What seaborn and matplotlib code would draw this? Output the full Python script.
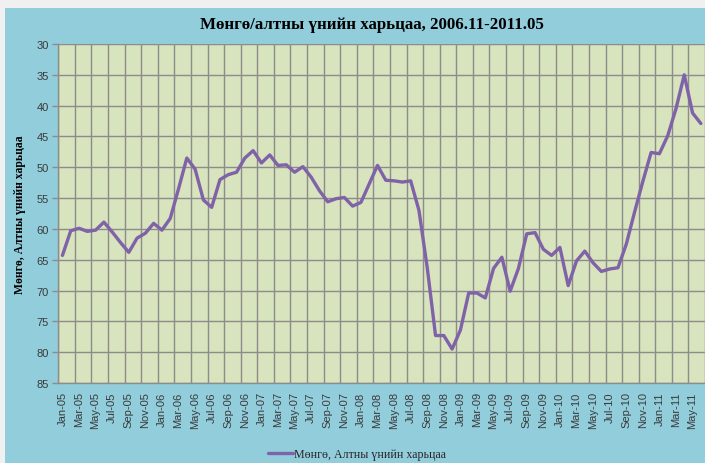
import matplotlib
matplotlib.use('Agg')
import matplotlib.pyplot as plt
import numpy as np
import pandas as pd
import seaborn as sns
from matplotlib.patches import Rectangle

TITLE = 'Мөнгө/алтны үнийн харьцаа, 2006.11-2011.05'
SERIES_NAME = 'Мөнгө, Алтны үнийн харьцаа'

MONTHS = pd.date_range('2005-01-01', '2011-06-01', freq='MS').strftime('%b-%y').tolist()

RATIO = [
    64.3, 60.3, 59.9, 60.4, 60.2, 58.9, 60.5, 62.2, 63.8, 61.5, 60.7, 59.1,   # 2005
    60.2, 58.3, 53.5, 48.5, 50.3, 55.3, 56.5, 52.0, 51.2, 50.8, 48.5, 47.3,   # 2006
    49.3, 48.0, 49.7, 49.6, 50.8, 49.9, 51.6, 53.8, 55.6, 55.1, 54.9, 56.3,   # 2007
    55.7, 52.7, 49.7, 52.1, 52.2, 52.4, 52.2, 57.0, 66.3, 77.3, 77.3, 79.5,   # 2008
    76.4, 70.4, 70.4, 71.2, 66.4, 64.6, 70.1, 66.4, 60.8, 60.6, 63.3, 64.3,   # 2009
    63.0, 69.2, 65.2, 63.6, 65.5, 66.9, 66.5, 66.3, 62.5, 57.3, 52.3, 47.6,   # 2010
    47.8, 44.9, 40.5, 35.0, 41.2, 42.9,                                       # 2011
]

Y_TICKS = list(range(30, 90, 5))

OUTER_BG = '#92cddc'
PLOT_BG = '#d7e4bd'
GRID = '#8c8c8c'
LINE = '#7f62a8'
TEXT = '#3a3a3a'

sns.set_style('white')
plt.rcParams['font.family'] = ['Liberation Sans', 'DejaVu Sans']

df = pd.DataFrame({'pos': np.arange(len(RATIO)) + 0.5, 'ratio': RATIO})

fig = plt.figure(figsize=(7.05, 4.64), dpi=100, facecolor='#f0f0f0')
fig.patches.append(Rectangle((5 / 705, 0), 1, 1 - 9 / 464, transform=fig.transFigure,
                             facecolor=OUTER_BG, edgecolor='none', zorder=-10))

ax = fig.add_axes([58.3 / 705, 1 - 384 / 464, (705 - 58.3) / 705, (384 - 45) / 464])
ax.set_facecolor(PLOT_BG)

sns.lineplot(data=df, x='pos', y='ratio', color=LINE, linewidth=2.4, ax=ax,
             label=SERIES_NAME, zorder=5)

n = len(MONTHS)
ax.set_xlim(0, n)
ax.set_ylim(85, 30)

ax.set_xticks(np.arange(0, n, 2) + 0.5)
ax.set_xticklabels(MONTHS[::2], rotation=90, fontsize=8, color=TEXT)
ax.set_xticks(np.arange(0, n + 1, 2), minor=True)
ax.tick_params(axis='x', which='major', length=0, pad=6)
ax.tick_params(axis='x', which='minor', length=0)

ax.set_yticks(Y_TICKS)
ax.set_yticklabels([str(v) for v in Y_TICKS], fontsize=8, color=TEXT)
ax.tick_params(axis='y', length=4, color=GRID, width=1, pad=3, left=True)

ax.grid(True, axis='x', which='minor', color=GRID, linewidth=1)
ax.grid(True, axis='y', which='major', color=GRID, linewidth=1)
ax.set_axisbelow(True)

for side in ['top', 'right']:
    ax.spines[side].set_visible(False)
for side in ['left', 'bottom']:
    ax.spines[side].set_color(GRID)
    ax.spines[side].set_linewidth(1)

ax.set_xlabel('')
ax.set_ylabel('')
fig.text(20 / 705, 1 - 215 / 464, SERIES_NAME, rotation=90, ha='center', va='center',
         fontsize=8.4, fontweight='bold', family='Liberation Serif', color='black')

fig.text(372 / 705, 1 - 25 / 464, TITLE, ha='center', va='center', fontsize=12.2,
         fontweight='bold', family='Liberation Serif', color='black')

leg = ax.legend(loc='center', bbox_to_anchor=(357 / 705, 1 - 455 / 464),
                bbox_transform=fig.transFigure, frameon=False, fontsize=8.6,
                handlelength=2.1, handletextpad=0.05, borderpad=0)
for t in leg.get_texts():
    t.set_family('Liberation Serif')

fig.savefig('out.png', dpi=100, facecolor=fig.get_facecolor())
